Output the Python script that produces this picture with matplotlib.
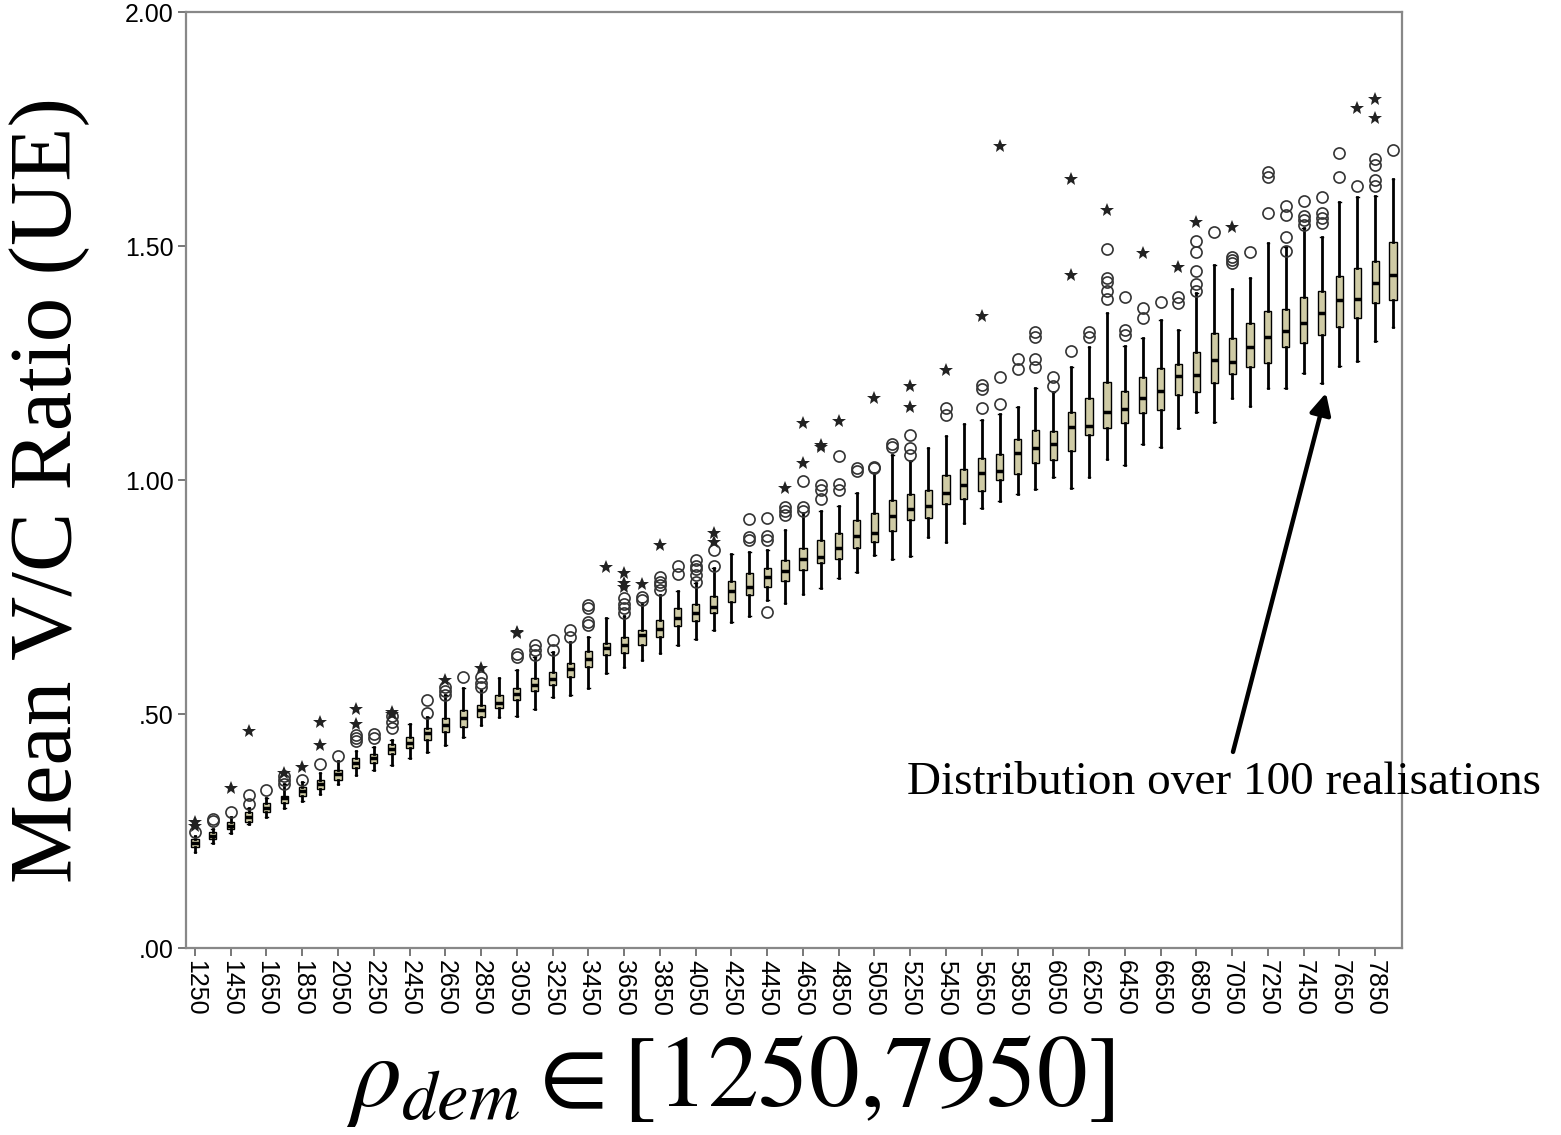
import numpy as np
import matplotlib
matplotlib.use("Agg")
import matplotlib.pyplot as plt

# demand levels 1250..7950 (step 100)
cats = [str(v) for v in range(1250, 8000, 100)]

med = [.225, .24, .26, .28, .30, .32, .335, .35, .372, .395,
       .405, .425, .438, .459, .476, .491, .509, .524, .543, .562,
       .575, .596, .617, .641, .648, .669, .682, .705, .716, .729,
       .763, .771, .793, .806, .831, .836, .854, .88, .887, .923,
       .938, .944, .973, .99, 1.015, 1.02, 1.058, 1.068, 1.077, 1.113,
       1.115, 1.145, 1.152, 1.175, 1.19, 1.222, 1.225, 1.256, 1.252, 1.284,
       1.306, 1.318, 1.335, 1.357, 1.385, 1.387, 1.421, 1.438]

q1 = [.215, .232, .255, .27, .29, .31, .325, .34, .36, .385,
      .395, .415, .427, .444, .462, .472, .494, .513, .53, .549,
      .562, .579, .60, .626, .63, .647, .664, .688, .699, .716,
      .739, .754, .771, .784, .808, .822, .831, .854, .868, .891,
      .915, .918, .949, .959, .977, 1.0, 1.013, 1.036, 1.043, 1.062,
      1.096, 1.111, 1.121, 1.143, 1.15, 1.181, 1.188, 1.208, 1.226, 1.241,
      1.25, 1.285, 1.293, 1.31, 1.327, 1.346, 1.378, 1.385]

q3 = [.232, .248, .27, .29, .31, .325, .345, .36, .38, .405,
      .415, .435, .451, .47, .491, .509, .519, .541, .556, .577,
      .59, .609, .635, .652, .665, .679, .70, .726, .735, .752,
      .784, .801, .812, .829, .855, .872, .886, .915, .929, .957,
      .97, .979, 1.01, 1.023, 1.047, 1.055, 1.088, 1.107, 1.105, 1.146,
      1.175, 1.21, 1.19, 1.22, 1.24, 1.247, 1.274, 1.314, 1.304, 1.335,
      1.361, 1.365, 1.39, 1.404, 1.436, 1.453, 1.468, 1.508]

whislo = [.205, .225, .245, .265, .28, .30, .315, .33, .35, .37,
          .38, .39, .406, .419, .434, .451, .476, .494, .496, .51,
          .536, .541, .556, .588, .60, .615, .63, .647, .66, .68,
          .697, .709, .744, .737, .756, .77, .79, .804, .84, .831,
          .838, .878, .868, .908, .94, .955, .97, .98, 1.006, .983,
          1.006, 1.045, 1.032, 1.077, 1.07, 1.111, 1.145, 1.124, 1.175, 1.158,
          1.197, 1.197, 1.229, 1.207, 1.244, 1.254, 1.297, 1.327]

whishi = [.24, .255, .28, .30, .32, .35, .355, .375, .40, .42,
          .43, .445, .479, .494, .541, .556, .551, .577, .594, .622,
          .632, .654, .665, .705, .71, .737, .754, .763, .78, .812,
          .842, .846, .85, .893, .929, .934, .944, .973, 1.015, 1.053,
          1.04, 1.068, 1.094, 1.12, 1.128, 1.14, 1.155, 1.196, 1.188, 1.241,
          1.284, 1.357, 1.287, 1.303, 1.342, 1.32, 1.40, 1.46, 1.408, 1.432,
          1.506, 1.498, 1.538, 1.519, 1.594, 1.605, 1.607, 1.643]

# outliers (circles)
circles = [[.248], [.271, .275], [.29], [.308, .327], [.338], [.35, .36, .368], [.36], [.393], [.41], [.442, .449, .455],
           [.449, .457], [.47, .483, .496], [], [.502, .53], [.541, .55, .557], [.579], [.558, .567, .579], [], [.622, .628], [.626, .637, .647],
           [.637, .658], [.665, .679], [.69, .697, .726, .733], [], [.716, .726, .735, .748], [.744, .75], [.765, .775, .782, .793], [.80, .816], [.782, .797, .81, .816, .829], [.816, .85],
           [], [.872, .878, .917], [.718, .872, .88, .919], [.925, .934, .943], [.934, .943, .998], [.959, .979, .989], [.979, .991, 1.051], [1.02, 1.025], [1.025, 1.028], [1.07, 1.077],
           [1.053, 1.068, 1.096], [], [1.139, 1.154], [], [1.154, 1.194, 1.203], [1.162, 1.22], [1.237, 1.258], [1.241, 1.258, 1.306, 1.316], [1.2, 1.22], [1.276],
           [1.306, 1.316], [1.386, 1.404, 1.423, 1.432, 1.494], [1.31, 1.32, 1.39], [1.346, 1.367], [1.38], [1.378, 1.391], [1.404, 1.419, 1.447, 1.487, 1.511], [1.53], [1.464, 1.47, 1.477], [1.487],
           [1.571, 1.647, 1.658], [1.49, 1.52, 1.566, 1.585], [1.545, 1.556, 1.564, 1.596], [1.549, 1.56, 1.571, 1.605], [1.648, 1.699], [1.628], [1.628, 1.641, 1.673, 1.686], [1.705]]

# extremes (stars): category index, value
star_i = [0, 0, 2, 3, 5, 6, 7, 7, 9, 9, 11, 11, 14, 16, 18, 18, 23, 24, 24, 24, 25, 26, 29, 29,
          33, 34, 34, 35, 35, 36, 38, 40, 40, 42, 44, 45, 49, 49, 51, 53, 55, 56, 58, 65, 66, 66]
star_v = [.26, .27, .342, .464, .374, .387, .434, .483, .479, .511, .50, .505, .573, .598, .673, .676,
          .814, .771, .78, .801, .778, .861, .868, .887, .983, 1.036, 1.122, 1.071, 1.074, 1.126,
          1.175, 1.157, 1.2, 1.235, 1.35, 1.714, 1.438, 1.643, 1.577, 1.485, 1.455, 1.551, 1.541,
          1.795, 1.774, 1.814]

yticks = [0, .5, 1.0, 1.5, 2.0]
ytick_labels = ['.00', '.50', '1.00', '1.50', '2.00']

fig = plt.figure(figsize=(15.61, 11.35), dpi=100)
ax = fig.add_axes([186 / 1561, 1 - 948 / 1135, (1402 - 186) / 1561, (948 - 12) / 1135])

stats = []
for k in range(len(cats)):
    stats.append(dict(med=med[k], q1=q1[k], q3=q3[k], whislo=whislo[k],
                      whishi=whishi[k], fliers=circles[k], label=cats[k]))

ax.bxp(stats, positions=range(len(cats)), widths=0.4, patch_artist=True,
       boxprops=dict(facecolor='#cfcba5', edgecolor='black', linewidth=1.0),
       medianprops=dict(color='black', linewidth=2.5),
       whiskerprops=dict(color='black', linewidth=2.0),
       capprops=dict(color='black', linewidth=1.0), capwidths=0.15,
       flierprops=dict(marker='o', markerfacecolor='none', markeredgecolor='#333333',
                       markersize=8, markeredgewidth=1.2, linestyle='none'))

ax.plot(star_i, star_v, linestyle='none', marker='*', markersize=10,
        color='#222222', markeredgewidth=0)

ax.set_xlim(-0.5, len(cats) - 0.5)
ax.set_ylim(0, 2)
ax.set_yticks(yticks)
ax.set_yticklabels(ytick_labels, fontfamily='Liberation Sans', fontsize=18)
ax.set_xticks(range(0, len(cats), 2))
ax.set_xticklabels(cats[::2], rotation=-90, fontfamily='Liberation Sans', fontsize=18)
ax.tick_params(direction='out', length=6, width=1.4, color='#777777', pad=3)

for s in ax.spines.values():
    s.set_color('#888888')
    s.set_linewidth(1.6)

# annotation
ax.annotate('', xy=(63.25, 1.186), xytext=(58.05, 0.419),
            arrowprops=dict(arrowstyle='-|>', lw=3.2, color='black',
                            mutation_scale=32, shrinkA=0, shrinkB=0))
ax.text(57.55, 0.353, 'Distribution over 100 realisations', ha='center', va='center',
        fontfamily='Liberation Serif', fontsize=34, clip_on=False)

plt.rcParams['mathtext.fontset'] = 'stix'
fig.text(50 / 1561, 1 - 490 / 1135, 'Mean V/C Ratio (UE)', rotation=90,
         ha='center', va='center', fontfamily='Liberation Serif', fontsize=64)
fig.text(730 / 1561, 1 - 1080 / 1135, r'$\rho_{dem} \in [1250{,}7950]$',
         ha='center', va='center', fontsize=73)

fig.savefig('out.png', dpi=100)
